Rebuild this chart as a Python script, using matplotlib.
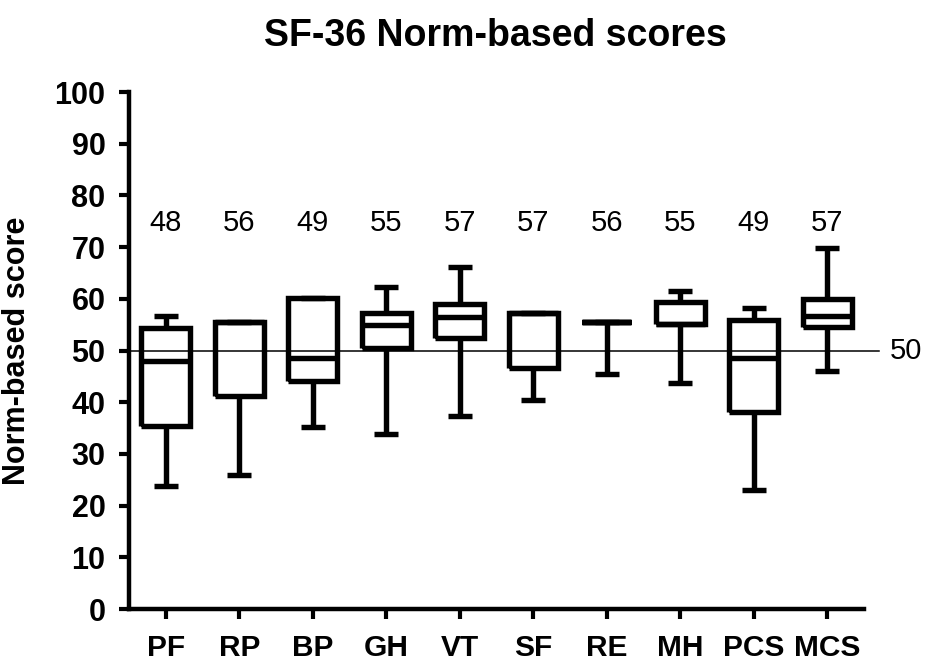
import matplotlib
matplotlib.use("Agg")
import matplotlib.pyplot as plt

plt.rcParams['font.family'] = ['Liberation Sans', 'DejaVu Sans']

# SF-36 scales and box statistics
scales = ['PF', 'RP', 'BP', 'GH', 'VT', 'SF', 'RE', 'MH', 'PCS', 'MCS']
whisk_lo = [23.8, 25.9, 35.3, 33.9, 37.4, 40.4, 45.5, 43.8, 23.1, 46.0]
q1 = [35.4, 41.2, 44.2, 50.4, 52.4, 46.7, 55.6, 55.1, 38.2, 54.5]
median = [48.0, 55.5, 48.5, 54.9, 56.5, 57.3, 55.6, 55.1, 48.6, 56.7]
q3 = [54.4, 55.5, 60.2, 57.2, 59.0, 57.3, 55.6, 59.4, 55.9, 59.9]
whisk_hi = [56.7, 55.5, 60.2, 62.3, 66.2, 57.3, 55.6, 61.5, 58.3, 69.8]
median_labels = ['48', '56', '49', '55', '57', '57', '56', '55', '49', '57']
norm_value = 50

fig = plt.figure(figsize=(9.25, 6.62), dpi=100)
ax = fig.add_axes([0.1395, 0.080, 0.7945, 0.781])

stats = []
for i in range(len(scales)):
    stats.append(dict(whislo=whisk_lo[i], q1=q1[i], med=median[i],
                      q3=q3[i], whishi=whisk_hi[i], fliers=[]))

pos = list(range(1, len(scales) + 1))
lw = 3.9
line = dict(color='black', linewidth=lw, solid_joinstyle='miter', solid_capstyle='butt')
ax.bxp(stats, positions=pos, widths=0.67, capwidths=0.33, showfliers=False,
       boxprops=line, whiskerprops=line, capprops=line, medianprops=line,
       patch_artist=False, manage_ticks=False, zorder=3)

# reference line at the norm value
ax.plot([0.5, 10.7], [norm_value, norm_value], color='black', linewidth=1.1,
        clip_on=False, zorder=2)
ax.text(10.85, norm_value, str(norm_value), fontsize=21, va='center', ha='left')

for p, lab in zip(pos, median_labels):
    ax.text(p, 74.6, lab, fontsize=21, ha='center', va='center')

ax.set_xlim(0.5, 10.5)
ax.set_ylim(0, 100)
ax.set_xticks(pos)
ax.set_xticklabels(scales, fontsize=21.5, fontweight='bold')
ax.set_yticks(range(0, 101, 10))
ax.set_yticklabels([str(v) for v in range(0, 101, 10)], fontsize=22, fontweight='bold')
ax.tick_params(axis='both', direction='out', length=7, width=3)
ax.tick_params(axis='x', pad=11)
ax.tick_params(axis='y', pad=10)

for side in ['top', 'right']:
    ax.spines[side].set_visible(False)
for side in ['left', 'bottom']:
    ax.spines[side].set_linewidth(3.2)

ax.set_ylabel('Norm-based score', fontsize=22, fontweight='bold')
ax.yaxis.set_label_coords(-0.132, 0.5)
fig.text(0.535, 0.946, 'SF-36 Norm-based scores', fontsize=27,
         fontweight='bold', ha='center', va='center')

fig.savefig('out.png', dpi=100)
